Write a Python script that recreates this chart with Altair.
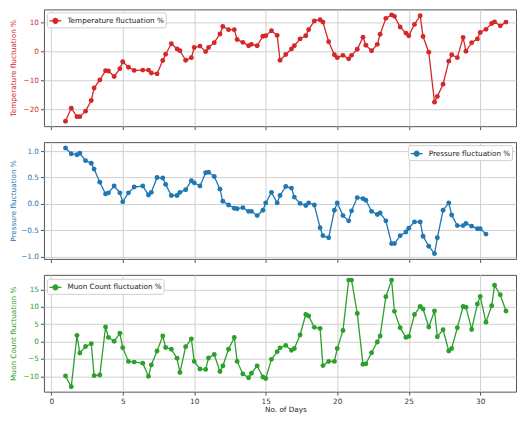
import altair as alt
import pandas as pd

days = [1, 1.4, 1.8, 2, 2.4, 2.8, 3, 3.4, 3.8, 4, 4.4, 4.8, 5, 5.4, 5.8, 6.4, 6.8,
        7, 7.4, 7.8, 8, 8.4, 8.8, 9, 9.4, 9.8, 10, 10.4, 10.8, 11, 11.4, 11.8,
        12, 12.4, 12.8, 13, 13.4, 13.8, 14, 14.4, 14.8, 15,
        15.4, 15.8, 16, 16.4, 16.8, 17, 17.4, 17.8, 18, 18.4,
        18.8, 19, 19.4, 19.8, 20, 20.4, 20.8, 21, 21.4, 21.8,
        22, 22.4, 22.8, 23, 23.4, 23.8, 24, 24.4, 24.8, 25,
        25.4, 25.8, 26, 26.4, 26.8, 27, 27.4, 27.8, 28, 28.4,
        28.8, 29, 29.4, 29.8, 30, 30.4, 30.8, 31, 31.4, 31.8]

temperature = [-24.2, -19.7, -22.6, -22.6, -20.7, -17.0, -12.7, -9.9, -6.7, -6.8, -8.7, -6.0,
               -3.6, -5.5, -6.6, -6.5, -6.5, -7.5, -7.8, -3.2, -1.0, 2.6, 0.8, 0.2, -3.1, -2.2,
               1.3, 1.8, -0.1, 1.3, 3.0, 6.0, 8.6, 7.5, 7.5, 4.1, 3.1, 1.9, 2.4, 1.9, 5.2, 5.4,
               7.1, 5.5, -3.1, -1.1, 0.8, 1.9, 4.3, 5.4, 7.5, 10.5,
               10.9, 10.1, 3.3, -1.2, -2.2, -1.4, -2.6, -1.4, 0.7, 4.9,
               2.1, 0.2, 2.4, 5.9, 11.4, 12.6, 12.1, 8.4, 6.3, 5.4,
               9.3, 12.3, 5.1, -0.3, -17.6, -15.6, -11.4, -3.4, -1.2, -2.2,
               4.8, 0.0, 3.0, 4.3, 6.5, 7.6, 9.6, 10.2, 8.8, 10.1]

pressure = [1.06, 0.95, 0.93, 0.96, 0.82, 0.77, 0.66, 0.41, 0.19, 0.21, 0.34, 0.21,
            0.04, 0.21, 0.32, 0.34, 0.17, 0.22, 0.50, 0.49, 0.37, 0.16, 0.16, 0.22, 0.27,
            0.44, 0.40, 0.34, 0.59, 0.60, 0.52, 0.28, 0.05, -0.02, -0.08, -0.09, -0.07,
            -0.14, -0.14, -0.22, -0.12, 0.02,
            0.22, 0.02, 0.16, 0.33, 0.30, 0.13, 0.01, -0.03, 0.02, -0.02,
            -0.45, -0.60, -0.64, -0.12, 0.02, -0.22, -0.32, -0.13, 0.12, 0.10,
            0.07, -0.14, -0.20, -0.17, -0.32, -0.75, -0.75, -0.60, -0.53, -0.46,
            -0.34, -0.34, -0.61, -0.80, -0.94, -0.64, -0.12, 0.02, -0.21, -0.41,
            -0.41, -0.37, -0.42, -0.47, -0.47, -0.57]

muon = [-9.9, -13.0, 1.8, -3.3, -1.4, -0.6, -9.8, -9.6, 4.2, 1.2, 0.1, 2.4, -1.75,
        -5.7, -5.9, -6.2, -10.0, -6.7, -2.7, 1.6, -1.7, -2.2, -4.8, -8.9, -1.5, 0.8,
        -5.7, -7.9, -8.0, -4.7, -3.7, -8.6, -7.0, -2.2, 1.2, -5.7, -9.3, -10.4, -9.1,
        -7.0, -10.2, -10.6,
        -5.1, -2.9, -1.8, -1.1, -2.5, -2.0, 1.9, 7.8, 7.4, 4.1,
        3.8, -6.9, -5.7, -5.7, -2.0, 3.2, 17.7, 17.7, 8.1, -6.5,
        -6.4, -3.2, -0.1, 1.6, 12.9, 17.7, 8.7, 4.0, 1.2, 1.5,
        7.8, 10.1, 9.4, 4.2, 8.8, 1.4, 3.4, -2.7, -2.0, 4.0,
        10.1, 9.9, 3.5, 10.8, 13.0, 5.6, 10.3, 16.2, 13.5, 8.8]

series_names = ["Temperature fluctuation %", "Pressure fluctuation %", "Muon Count fluctuation %"]
series_colors = ["#d62728", "#1f77b4", "#2ca02c"]
y_titles = ["Temperature fluctuation %", "Pressure fluctuation %", "Muon Count fluctuation %"]
y_domains = [[-25.9, 14.5], [-1.04, 1.17], [-14.4, 19.2]]
y_ticks = [[-20, -10, 0, 10], [-1.0, -0.5, 0.0, 0.5, 1.0], [-10, -5, 0, 5, 10, 15]]
y_formats = ["d", ".1f", "d"]
x_ticks = [0, 5, 10, 15, 20, 25, 30]

W = 473
H = 117
FONT = "DejaVu Sans"
FS = 7.3
XDOM = [-0.51, 32.5]
LEGEND_PATH = "M-1,0L1,0M-0.4,0A0.4,0.4,0,1,1,0.4,0A0.4,0.4,0,1,1,-0.4,0Z"


def panel(values, idx, bottom, legend_x, legend_y):
    name = series_names[idx]
    color = series_colors[idx]
    df = pd.DataFrame({"day": days[:len(values)], "value": values, "series": name})
    if bottom:
        xaxis = alt.Axis(values=x_ticks, grid=True, labels=True, title="No. of Days",
                         labelColor="#333333", titleColor="#222222", titleFontWeight="normal",
                         titlePadding=1, titleX=242, titleAlign="center")
    else:
        xaxis = alt.Axis(values=x_ticks, grid=True, labels=False, title=None)
    yaxis = alt.Axis(values=y_ticks[idx], format=y_formats[idx], grid=True,
                     labelColor=color, titleColor=color, title=y_titles[idx],
                     titleX=-30, titleY=H / 2, titleAngle=270, titleAlign="center",
                     titleBaseline="middle", titleFontWeight="normal")
    legend = alt.Legend(orient="none", legendX=legend_x, legendY=legend_y, title=None,
                        symbolType=LEGEND_PATH, symbolSize=144, symbolStrokeWidth=1.3,
                        symbolFillColor=color, symbolStrokeColor=color,
                        labelFont=FONT, labelFontSize=FS, labelColor="#222222",
                        labelOffset=5, padding=1.5, fillColor="white",
                        strokeColor="#d0d0d0", cornerRadius=2)
    return alt.Chart(df).mark_line(
        strokeWidth=1.3,
        point=alt.OverlayMarkDef(filled=True, size=24),
    ).encode(
        x=alt.X("day:Q", scale=alt.Scale(domain=XDOM, nice=False, zero=False), axis=xaxis),
        y=alt.Y("value:Q", scale=alt.Scale(domain=y_domains[idx], nice=False, zero=False), axis=yaxis),
        color=alt.Color("series:N", scale=alt.Scale(domain=[name], range=[color]), legend=legend),
    ).properties(width=W, height=H)


top = panel(temperature, 0, False, 3, 3)
mid = panel(pressure, 1, False, W - 108, 3)
bot = panel(muon, 2, True, 3, 4)

chart = alt.vconcat(top, mid, bot, spacing=10).resolve_scale(
    color="independent", y="independent", x="independent"
).resolve_legend(color="independent").properties(
    padding={"left": 1, "top": 0, "right": 0, "bottom": 0}
).configure_view(
    stroke="#555555", strokeWidth=1
).configure_axis(
    labelFont=FONT, titleFont=FONT, labelFontSize=FS, titleFontSize=FS,
    gridColor="#d0d0d0", gridWidth=1, tickColor="#555555", tickSize=3.5,
    domain=False, labelPadding=2
)

chart.save("out.html", embed_options={"renderer": "svg", "actions": False})
